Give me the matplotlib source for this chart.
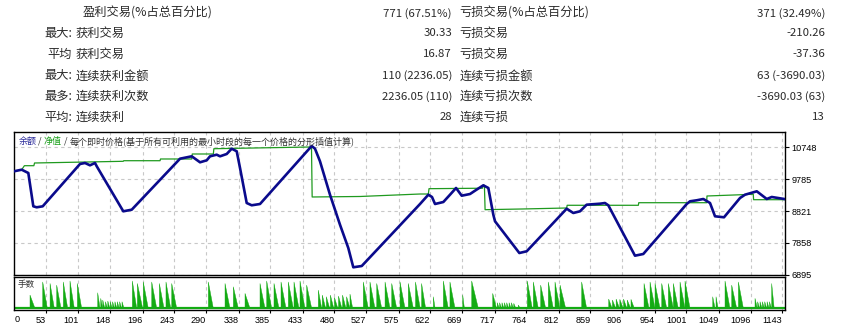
import matplotlib
matplotlib.use('Agg')
import matplotlib.pyplot as plt

plt.rcParams['font.family'] = ['Noto Sans CJK SC', 'DejaVu Sans']

# ---------------- data ----------------
stat_rows_prefix = ['', '最大:', '平均', '最大:', '最多:', '平均:']
stat_left_labels = ['盈利交易(%占总百分比)', '获利交易', '获利交易', '连续获利金额', '连续获利次数', '连续获利']
stat_left_values = ['771 (67.51%)', '30.33', '16.87', '110 (2236.05)', '2236.05 (110)', '28']
stat_right_labels = ['亏损交易(%占总百分比)', '亏损交易', '亏损交易', '连续亏损金额', '连续亏损次数', '连续亏损']
stat_right_values = ['371 (32.49%)', '-210.26', '-37.36', '63 (-3690.03)', '-3690.03 (63)', '13']

balance_trade = [5.6, 17, 26.8, 34.2, 39.2, 48.1, 103.3, 110.7, 118.1, 125.5, 128.1,
                 167.4, 179.9, 251.4, 268.7, 281.0, 290.9, 295.8, 305.7, 310.6, 320.5,
                 327.9, 335.3, 340.2, 350.1, 357.5, 369.8, 446.3, 451.2, 458.6, 473.4,
                 488.2, 500.5, 507.9, 520.4, 606.7, 619.0, 624.4, 628.9, 641.2, 651.1,
                 660.0, 668.4, 680.7, 689.6, 700.4, 707.8, 715.2, 717.7, 753.7, 764.6,
                 823.8, 833.6, 843.5, 853.4, 873.1, 880.5, 885.4, 924.9, 937.2, 1001.5,
                 1006.4, 1016.3, 1026.1, 1036.0, 1043.4, 1056.7, 1080.4, 1087.8, 1105.2,
                 1120.0, 1127.4, 1146]
balance_value = [10022, 10070, 9970, 8963, 8933, 8963, 10243, 10273, 10203, 10273, 10173,
                 8812, 8861, 10403, 10475, 10294, 10354, 10475, 10524, 10475, 10545,
                 10705, 10627, 10122, 9063, 8994, 9033, 10787, 10705, 10324, 9314,
                 8407, 7702, 7119, 7158, 9033, 9314, 9245, 9033, 9093, 9314,
                 9517, 9284, 9335, 9456, 9598, 9517, 8709, 8510, 7551, 7603,
                 8891, 8761, 8812, 9012, 9042, 9063, 8994, 7470, 7521, 9033,
                 9115, 9145, 9184, 9063, 8661, 8631, 9214, 9314, 9417,
                 9184, 9245, 9184]

equity_trade = [17, 21, 35, 36, 167.4, 168, 221.8, 222.5, 268.7, 269.5, 300.7, 301.5,
                446, 447, 517.8, 606.7, 619, 620, 699, 700.4, 702, 703, 758, 823.8,
                824.5, 929.9, 930.5, 1031, 1031.5, 1083, 1100, 1100.5, 1146]
equity_value = [10070, 10191, 10191, 10273, 10324, 10342, 10342, 10394, 10394, 10545,
                10545, 10705, 10757, 9245, 9260, 9335, 9335, 9496, 9510, 9598, 9598,
                8861, 8882, 8912, 8994, 8994, 9072, 9072, 9275, 9314, 9330, 9163, 9163]

y_ticks = [6895, 7858, 8821, 9785, 10748]
x_ticks = [53, 101, 148, 196, 243, 290, 338, 385, 433, 480, 527, 575, 622, 669, 717,
           764, 812, 859, 906, 954, 1001, 1049, 1096, 1143]

vol_start = [29.3, 48.1, 59, 68.8, 78.6, 88.5, 99.4, 129.5, 134, 137,
             141, 144.5, 148, 151.5, 155, 158.5, 162, 165.5,
             180.8, 188.2, 197, 209.5, 220.8, 230.6, 239.1, 293.3, 318, 330.3, 347.6,
             369.8, 379.7, 390.5, 400.9, 411.7, 420.1, 429, 438.9, 456.1,
             462, 468, 474, 480, 486, 492, 498, 503,
             522.7, 532.6, 542.6, 554.9, 564.8, 577.1, 589.3, 600, 609, 626.4,
             641.2, 651, 669.9, 683.2, 714.3,
             721, 724.5, 728, 731.5, 735, 738.5, 742, 745.5, 752.2,
             765.5, 774.4, 785.3, 796.6, 806.5, 814, 846,
             886, 891.5, 897, 902.5, 908, 913.5, 919,
             938.3, 947.2, 954.6, 964.5, 974.3, 981.7, 991.6, 999, 1040, 1044.9,
             1058.2, 1068.1, 1078, 1102.6, 1106.5, 1110, 1113.5, 1117, 1120.5, 1124, 1127.3]
vol_end = [36.7, 55, 65.3, 75.2, 85.1, 94.9, 105.8, 133, 137, 140,
           144, 147.5, 151, 154.5, 158, 161.5, 165, 168.5,
           187.3, 196.1, 204.4, 216.9, 227.7, 237.6, 246.5, 300.7, 325.4, 337.7, 355,
           377.2, 387.1, 397.9, 408.3, 419.1, 427.5, 436.4, 446.3, 461.1,
           467, 473, 479, 485, 491, 497, 503, 507,
           530.1, 540, 550, 562.3, 572.2, 584.5, 596.8, 607, 615, 629,
           648.5, 658.5, 672.4, 693, 720,
           724, 727.5, 731, 734.5, 738, 741.5, 745, 748.5, 755,
           772.9, 781.8, 792.7, 804, 813.9, 822.3, 853.4,
           891, 896.5, 902, 907.5, 913, 918.5, 924,
           945.7, 954.6, 962, 971.9, 981.7, 989, 999, 1006.4, 1043.5, 1048,
           1065.6, 1075.5, 1085.4, 1106, 1109.5, 1113, 1116.5, 1120, 1123.5, 1127, 1131]
vol_peak = [0.45, 0.845, 0.80, 0.75, 0.845, 0.875, 0.80, 0.52, 0.35, 0.30,
            0.25, 0.27, 0.25, 0.25, 0.25, 0.25, 0.25, 0.25,
            0.875, 0.80, 0.845, 0.845, 0.80, 0.845, 0.80, 0.845, 0.80, 0.70, 0.50,
            0.80, 0.875, 0.80, 0.845, 0.845, 0.845, 0.875, 0.75, 0.60,
            0.45, 0.40, 0.45, 0.38, 0.42, 0.45, 0.40, 0.48,
            0.845, 0.845, 0.80, 0.845, 0.80, 0.845, 0.80, 0.845, 0.80, 0.40,
            0.875, 0.845, 0.45, 0.875, 0.50,
            0.22, 0.22, 0.22, 0.22, 0.22, 0.22, 0.22, 0.20, 0.15,
            0.875, 0.845, 0.75, 0.845, 0.845, 0.75, 0.845,
            0.33, 0.30, 0.33, 0.32, 0.33, 0.30, 0.32,
            0.80, 0.845, 0.80, 0.80, 0.80, 0.80, 0.845, 0.875, 0.40, 0.40,
            0.875, 0.75, 0.845, 0.35, 0.25, 0.25, 0.25, 0.25, 0.25, 0.25, 0.80]
vol_base = 0.05

header_parts = ['余额', ' / ', '净值', ' / ', '每个即时价格(基于所有可利用的最小时段的每一个价格的分形插值计算)']
header_colors = ['#2a2a9a', '#333333', '#1aa01a', '#333333', '#333333']

# ---------------- figure ----------------
W, H = 845, 329
fig = plt.figure(figsize=(W / 100, H / 100), dpi=100)
fig.patch.set_facecolor('white')


def fx(px):
    return px / W


def fy(py):
    return 1 - py / H


txt_color = '#2a2a2a'
row_y = [13.3, 33.3, 54.3, 76, 96.7, 117.3]
for i in range(6):
    yy = fy(row_y[i])
    if stat_rows_prefix[i]:
        fig.text(fx(72), yy, stat_rows_prefix[i], ha='right', va='center', fontsize=8.8, color=txt_color)
    lx = 82.7 if i == 0 else 76
    fig.text(fx(lx), yy, stat_left_labels[i], ha='left', va='center', fontsize=8.8, color=txt_color)
    fig.text(fx(452), yy, stat_left_values[i], ha='right', va='center', fontsize=8.2, color=txt_color)
    fig.text(fx(459.3), yy, stat_right_labels[i], ha='left', va='center', fontsize=8.8, color=txt_color)
    fig.text(fx(825), yy, stat_right_values[i], ha='right', va='center', fontsize=8.2, color=txt_color)

# axes
left_px, right_px = 14, 785
top_px, bot_px = 132.3, 274.7
ax = fig.add_axes([fx(left_px), fy(bot_px), fx(right_px - left_px), (bot_px - top_px) / H])
vtop_px, vbot_px = 276.8, 310
axv = fig.add_axes([fx(left_px), fy(vbot_px), fx(right_px - left_px), (vbot_px - vtop_px) / H])

xmin, xmax = 5.6, 1147
grid_kw = dict(color='#c8c8c8', linestyle=(0, (3, 3)), linewidth=0.8)

ax.set_xlim(xmin, xmax)
ax.set_ylim(6895, 11201)
ax.plot(equity_trade, equity_value, color='#1f9a1f', lw=0.9, zorder=3)
ax.plot(balance_trade, balance_value, color='#0a0a8c', lw=1.9, zorder=4, solid_joinstyle='round')
ax.set_xticks(x_ticks)
ax.set_xticklabels([])
ax.tick_params(axis='x', length=0)
ax.yaxis.tick_right()
ax.set_yticks(y_ticks)
ax.set_yticklabels([str(v) for v in y_ticks], fontsize=6.6, family='Liberation Sans')
ax.tick_params(axis='y', length=3, width=0.8, pad=1.5, colors='black')
ax.grid(True, **grid_kw)
for s in ax.spines.values():
    s.set_color('black')
    s.set_linewidth(1.0)

# header inside chart, pieces placed one after another
fig.canvas.draw()
renderer = fig.canvas.get_renderer()
xcur = fx(18.3)
hdr_y = fy(141.3)
for s, c in zip(header_parts, header_colors):
    t = fig.text(xcur, hdr_y, s, ha='left', va='center', fontsize=6.5, color=c)
    bb = t.get_window_extent(renderer=renderer)
    xcur = bb.x1 / W

# volume axes
axv.set_xlim(xmin, xmax)
axv.set_ylim(0, 1)
vol_color = '#13ab13'
axv.axhline(vol_base, color=vol_color, lw=1.6, zorder=2)
for s0, e0, p in zip(vol_start, vol_end, vol_peak):
    axv.fill([s0, s0, e0], [vol_base, p, vol_base], color=vol_color, lw=0.3, zorder=3)
axv.set_xticks(x_ticks)
axv.set_xticklabels([str(v) for v in x_ticks], fontsize=6.6, family='Liberation Sans')
for lbl in axv.get_xticklabels():
    lbl.set_horizontalalignment('right')
axv.tick_params(axis='x', length=2.5, width=0.8, pad=1.5)
axv.set_yticks([])
axv.grid(True, axis='x', **grid_kw)
for s in axv.spines.values():
    s.set_color('black')
    s.set_linewidth(1.0)
fig.text(fx(18), fy(285), '手数', ha='left', va='center', fontsize=6.2, color='#333333')
fig.text(fx(17), fy(320), '0', ha='center', va='center', fontsize=6.6, family='Liberation Sans')

fig.savefig('out.png', dpi=100, facecolor='white')
